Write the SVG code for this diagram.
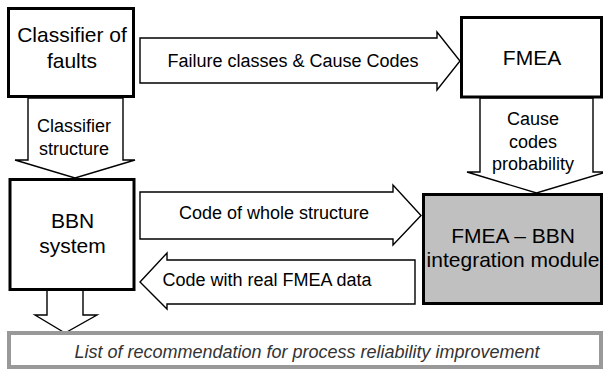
<svg xmlns="http://www.w3.org/2000/svg" width="603" height="370" viewBox="0 0 603 370">
<style>
.arrow{fill:#fff;stroke:#000;stroke-width:1.4;stroke-linejoin:miter}
.box{fill:#fff;stroke:#000;stroke-width:3}
.gray{fill:#c0c0c0}
.bt{font-family:"Liberation Sans",Arial,sans-serif;font-size:21px;fill:#000;text-anchor:middle}
.at{font-family:"Liberation Sans",Arial,sans-serif;font-size:18px;fill:#000;text-anchor:middle}
.it{font-family:"Liberation Sans",Arial,sans-serif;font-size:18px;font-style:italic;fill:#333;text-anchor:middle}
</style>
<rect width="603" height="370" fill="#fff"/>
<g id="connectors">
  <g id="arrow-failure">
    <polygon class="arrow" points="140,38 437,38 437,32 460,61 437,90 437,83 140,83"/>
    <text class="at" x="293" y="67">Failure classes &amp; Cause Codes</text>
  </g>
  <g id="arrow-classifier-structure">
    <polygon class="arrow" points="28,98 123,98 123,160 135,160 75,178 15,160 28,160"/>
    <text class="at" x="74" y="132">Classifier</text>
    <text class="at" x="74" y="155">structure</text>
  </g>
  <g id="arrow-cause-codes">
    <polygon class="arrow" points="480,98 593,98 593,172 606,172 536.5,193 467,172 480,172"/>
    <text class="at" x="533" y="125">Cause</text>
    <text class="at" x="533" y="148">codes</text>
    <text class="at" x="533" y="170">probability</text>
  </g>
  <g id="arrow-code-whole">
    <polygon class="arrow" points="140,192 393,192 393,185 421,215.5 393,245 393,239 140,239"/>
    <text class="at" x="274" y="219">Code of whole structure</text>
  </g>
  <g id="arrow-code-real">
    <polygon class="arrow" points="415,260 415,304 167,304 167,309 140,282 167,253 167,260"/>
    <text class="at" x="267" y="286">Code with real FMEA data</text>
  </g>
  <g id="arrow-bbn-out">
    <polygon class="arrow" points="47,289 83,289 83,315 97,315 65,333 35,315 47,315"/>
  </g>
</g>
<g id="node-classifier">
  <rect class="box" x="8.5" y="8.5" width="125" height="88"/>
  <text class="bt" x="72" y="42">Classifier of</text>
  <text class="bt" x="72" y="68">faults</text>
</g>
<g id="node-fmea">
  <rect class="box" x="461.5" y="17.5" width="140" height="79.5"/>
  <text class="bt" x="532" y="65">FMEA</text>
</g>
<g id="node-bbn">
  <rect class="box" x="10" y="179.5" width="124" height="110"/>
  <text class="bt" x="72.5" y="228">BBN</text>
  <text class="bt" x="72.5" y="253">system</text>
</g>
<g id="node-integration">
  <rect class="box gray" x="423.5" y="194.5" width="178" height="109"/>
  <text class="bt" x="513" y="243">FMEA – BBN</text>
  <text class="bt" x="513" y="267">integration module</text>
</g>
<g id="node-recommendation">
  <rect x="9" y="333" width="592" height="34" fill="#fff" stroke="#999" stroke-width="4"/>
  <text class="it" x="307" y="358">List of recommendation for process reliability improvement</text>
</g>
</svg>
